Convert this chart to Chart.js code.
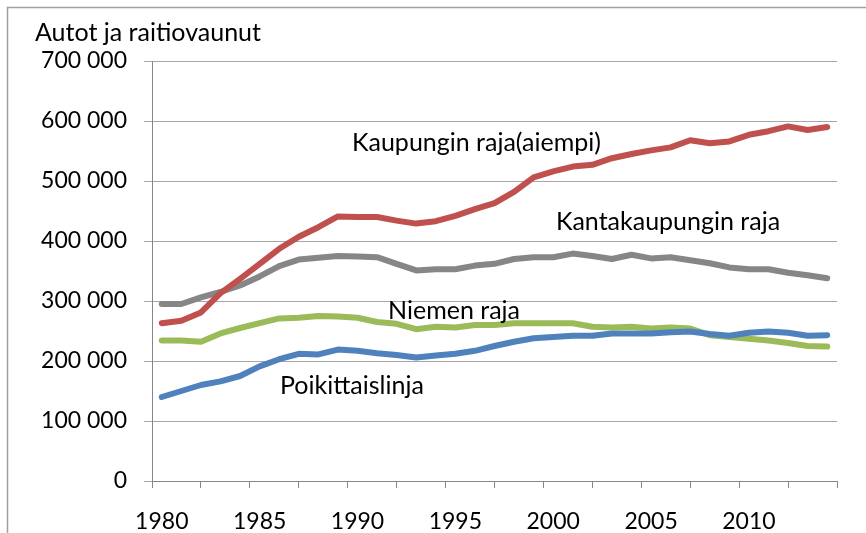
<!DOCTYPE html>
<html>
<head>
<meta charset="utf-8">
<script src="https://cdn.jsdelivr.net/npm/chart.js@4"></script>
<style>
  body { margin: 0; background: #fff; }
  #wrap { position: relative; width: 866px; height: 533px; }
</style>
</head>
<body>
<div id="wrap"><canvas id="chart"></canvas></div>
<script>
const years = [1980, 1981, 1982, 1983, 1984, 1985, 1986, 1987, 1988, 1989,
  1990, 1991, 1992, 1993, 1994, 1995, 1996, 1997, 1998, 1999,
  2000, 2001, 2002, 2003, 2004, 2005, 2006, 2007, 2008, 2009,
  2010, 2011, 2012, 2013, 2014];

// Kaupungin raja (aiempi)
const kaupunginRaja = [263000, 267000, 281000, 313000, 337000, 362000, 387000, 407000, 423000,
  441000, 440000, 440000, 434000, 429000, 433000, 442000, 453000, 463000,
  482000, 506000, 516000, 524000, 527000, 538000, 545000, 551000, 556000,
  568000, 563000, 566000, 577000, 583000, 591000, 585000, 590000];

const kantakaupunginRaja = [295000, 295000, 306000, 315000, 326000, 341000, 358000, 369000, 372000,
  375000, 374000, 373000, 362000, 351000, 353000, 353000, 359000, 362000,
  370000, 373000, 373000, 379000, 375000, 370000, 377000, 371000, 373000,
  368000, 363000, 356000, 353000, 353000, 347000, 343000, 338000];

const niemenRaja = [234000, 234000, 232000, 246000, 255000, 263000, 271000, 272000, 275000,
  274000, 272000, 265000, 262000, 253000, 257000, 256000, 260000, 260000,
  263000, 263000, 263000, 263000, 257000, 256000, 257000, 254000, 256000,
  254000, 243000, 240000, 237000, 234000, 230000, 225000, 224000];

const poikittaislinja = [140000, 150000, 160000, 166000, 175000, 191000, 203000, 212000, 211000,
  219000, 217000, 213000, 210000, 206000, 209000, 212000, 217000, 225000,
  232000, 238000, 240000, 242000, 242000, 246000, 246000, 246000, 248000,
  249000, 245000, 242000, 247000, 249000, 247000, 242000, 243000];

const yearLabels = [1980, 1985, 1990, 1995, 2000, 2005, 2010];
const yTicks = [0, 100000, 200000, 300000, 400000, 500000, 600000, 700000];

const FONT = "Lato, 'Noto Sans', sans-serif";

function points(values) {
  return values.map((v, i) => ({ x: years[i], y: v }));
}

function lineSet(label, values, color, order) {
  return {
    label: label,
    data: points(values),
    borderColor: color,
    backgroundColor: color,
    borderWidth: 6,
    borderCapStyle: "round",
    borderJoinStyle: "round",
    pointRadius: 0,
    tension: 0,
    order: order,
  };
}

// text inside the chart and the axis title, plus the outer frame
const textPlugin = {
  id: "texts",
  beforeDraw(chart) {
    const ctx = chart.ctx;
    ctx.save();
    ctx.strokeStyle = "#a0a0a0";
    ctx.lineWidth = 1.5;
    ctx.beginPath();
    ctx.moveTo(7.5, 533);
    ctx.lineTo(7.5, 7.5);
    ctx.lineTo(866, 7.5);
    ctx.stroke();
    ctx.restore();
  },
  afterDatasetsDraw(chart) {
    const ctx = chart.ctx;
    const xs = chart.scales.x;
    const ys = chart.scales.y;
    const notes = [
      { text: "Kaupungin raja(aiempi)", x: 1989.72, y: 563000 },
      { text: "Kantakaupungin raja", x: 2000.14, y: 432000 },
      { text: "Niemen raja", x: 1991.56, y: 283000 },
      { text: "Poikittaislinja", x: 1986.04, y: 158000 },
    ];
    ctx.save();
    ctx.fillStyle = "#000";
    ctx.font = "25px " + FONT;
    ctx.textAlign = "left";
    ctx.textBaseline = "middle";
    notes.forEach((n) => {
      ctx.fillText(n.text, xs.getPixelForValue(n.x), ys.getPixelForValue(n.y));
    });
    ctx.fillText("Autot ja raitiovaunut", 35, 33);
    ctx.restore();
  },
};

new Chart(document.getElementById("chart"), {
  type: "line",
  data: {
    datasets: [
      lineSet("Kaupungin raja(aiempi)", kaupunginRaja, "#C0504D", 1),
      lineSet("Poikittaislinja", poikittaislinja, "#4F81BD", 2),
      lineSet("Niemen raja", niemenRaja, "#9BBB59", 3),
      lineSet("Kantakaupungin raja", kantakaupunginRaja, "#868686", 4),
    ],
  },
  options: {
    responsive: true,
    maintainAspectRatio: false,
    animation: false,
    layout: { padding: { top: 61, right: 29, bottom: 0, left: 0 } },
    plugins: {
      legend: { display: false },
      tooltip: { enabled: false },
    },
    scales: {
      x: {
        type: "linear",
        position: "bottom",
        weight: 0,
        min: 1979.5,
        max: 2014.5,
        afterBuildTicks(scale) {
          const t = [];
          for (let k = 0; k <= 14; k++) t.push({ value: 1979.5 + k * 2.5 });
          scale.ticks = t;
        },
        afterFit(scale) { scale.height = 7; },
        grid: { drawOnChartArea: false, tickLength: 7, color: "#868686", lineWidth: 1 },
        border: { color: "#868686", width: 1 },
        ticks: { display: false },
      },
      xl: {
        type: "linear",
        position: "bottom",
        weight: 1,
        min: 1979.5,
        max: 2014.5,
        afterBuildTicks(scale) {
          scale.ticks = yearLabels.map((v) => ({ value: v }));
        },
        afterFit(scale) { scale.height = 45; },
        grid: { display: false },
        border: { display: false },
        ticks: {
          padding: 12,
          color: "#000",
          font: { family: FONT, size: 23 },
          maxRotation: 0,
          autoSkip: false,
          callback: (v) => String(v),
        },
      },
      y: {
        min: 0,
        max: 700000,
        afterBuildTicks(scale) {
          scale.ticks = yTicks.map((v) => ({ value: v }));
        },
        afterFit(scale) { scale.width = 152; },
        grid: { color: "#a6a6a6", lineWidth: 1, tickLength: 8 },
        border: { color: "#868686", width: 1 },
        ticks: {
          padding: 17,
          color: "#000",
          font: { family: FONT, size: 23 },
          callback: (v) => String(v).replace(/\B(?=(\d{3})+(?!\d))/g, " "),
        },
      },
    },
  },
  plugins: [textPlugin],
});
</script>
</body>
</html>
